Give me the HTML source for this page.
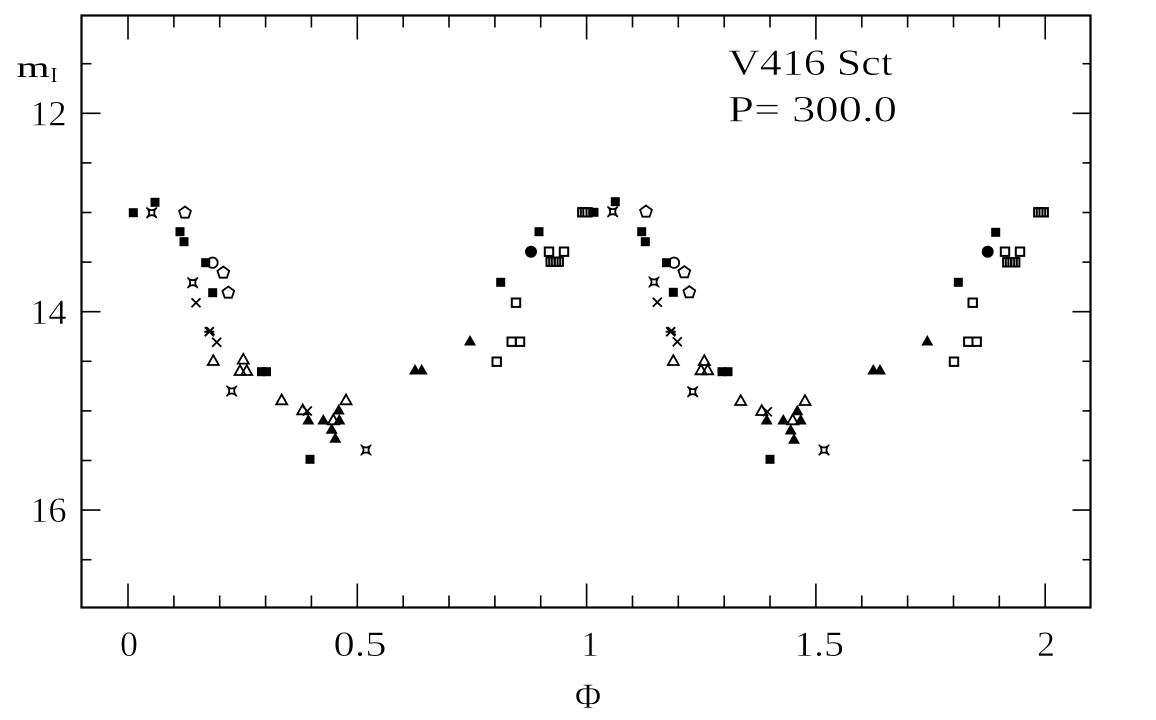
<!DOCTYPE html>
<html><head><meta charset="utf-8"><style>
html,body{margin:0;padding:0;background:#fff;}
svg{display:block;}
text{font-family:"Liberation Serif",serif;fill:#000;stroke:#fff;stroke-width:0.5;}
text.nos{stroke:none;}
</style></head><body>
<svg width="1156" height="720" viewBox="0 0 1156 720" xmlns="http://www.w3.org/2000/svg">
<defs>
<rect id="fsq" x="-4.5" y="-4.5" width="9" height="9" fill="#000"/>
<rect id="osq" x="-4.2" y="-4.2" width="8.4" height="8.4" fill="none" stroke="#000" stroke-width="2"/>
<polygon id="ftri" points="0,-6 6,4.5 -6,4.5" fill="#000"/>
<polygon id="otri" points="0,-5.5 5.5,4.3 -5.5,4.3" fill="none" stroke="#000" stroke-width="1.8"/>
<polygon id="pent" points="0,-6.2 5.9,-1.9 3.6,5 -3.6,5 -5.9,-1.9" fill="none" stroke="#000" stroke-width="1.8"/>
<circle id="ocirc" r="5.2" fill="none" stroke="#000" stroke-width="1.8"/>
<circle id="fcirc" r="6" fill="#000"/>
<g id="xx" stroke="#000" stroke-width="1.8"><line x1="-4.5" y1="-4.5" x2="4.5" y2="4.5"/><line x1="-4.5" y1="4.5" x2="4.5" y2="-4.5"/></g>
<g id="ast" stroke="#000" stroke-width="2"><line x1="-4.5" y1="-4.5" x2="4.5" y2="4.5"/><line x1="-4.5" y1="4.5" x2="4.5" y2="-4.5"/><line x1="-3" y1="-4.5" x2="5" y2="3.5"/><line x1="-5" y1="0" x2="5" y2="0"/></g>
<g id="astr" stroke="#000" stroke-width="1.8" fill="none"><path d="M-3.5,-3.5 Q0,-1.5 3.5,-3.5 Q1.5,0 3.5,3.5 Q0,1.5 -3.5,3.5 Q-1.5,0 -3.5,-3.5 Z"/><line x1="-5" y1="-5" x2="-3" y2="-3"/><line x1="5" y1="-5" x2="3" y2="-3"/><line x1="5" y1="5" x2="3" y2="3"/><line x1="-5" y1="5" x2="-3" y2="3"/></g>
</defs>

<rect x="81.5" y="15.5" width="1009" height="592" fill="none" stroke="#000" stroke-width="2.2"/>

<g stroke="#000" stroke-width="1.6">
<line x1="128" y1="15.5" x2="128" y2="39.5"/><line x1="128" y1="607.5" x2="128" y2="583.5"/>
<line x1="173.9" y1="15.5" x2="173.9" y2="27.5"/><line x1="173.9" y1="607.5" x2="173.9" y2="595.5"/>
<line x1="219.7" y1="15.5" x2="219.7" y2="27.5"/><line x1="219.7" y1="607.5" x2="219.7" y2="595.5"/>
<line x1="265.6" y1="15.5" x2="265.6" y2="27.5"/><line x1="265.6" y1="607.5" x2="265.6" y2="595.5"/>
<line x1="311.4" y1="15.5" x2="311.4" y2="27.5"/><line x1="311.4" y1="607.5" x2="311.4" y2="595.5"/>
<line x1="357.3" y1="15.5" x2="357.3" y2="39.5"/><line x1="357.3" y1="607.5" x2="357.3" y2="583.5"/>
<line x1="403.2" y1="15.5" x2="403.2" y2="27.5"/><line x1="403.2" y1="607.5" x2="403.2" y2="595.5"/>
<line x1="449" y1="15.5" x2="449" y2="27.5"/><line x1="449" y1="607.5" x2="449" y2="595.5"/>
<line x1="494.9" y1="15.5" x2="494.9" y2="27.5"/><line x1="494.9" y1="607.5" x2="494.9" y2="595.5"/>
<line x1="540.7" y1="15.5" x2="540.7" y2="27.5"/><line x1="540.7" y1="607.5" x2="540.7" y2="595.5"/>
<line x1="586.6" y1="15.5" x2="586.6" y2="39.5"/><line x1="586.6" y1="607.5" x2="586.6" y2="583.5"/>
<line x1="632.5" y1="15.5" x2="632.5" y2="27.5"/><line x1="632.5" y1="607.5" x2="632.5" y2="595.5"/>
<line x1="678.3" y1="15.5" x2="678.3" y2="27.5"/><line x1="678.3" y1="607.5" x2="678.3" y2="595.5"/>
<line x1="724.2" y1="15.5" x2="724.2" y2="27.5"/><line x1="724.2" y1="607.5" x2="724.2" y2="595.5"/>
<line x1="770" y1="15.5" x2="770" y2="27.5"/><line x1="770" y1="607.5" x2="770" y2="595.5"/>
<line x1="815.9" y1="15.5" x2="815.9" y2="39.5"/><line x1="815.9" y1="607.5" x2="815.9" y2="583.5"/>
<line x1="861.8" y1="15.5" x2="861.8" y2="27.5"/><line x1="861.8" y1="607.5" x2="861.8" y2="595.5"/>
<line x1="907.6" y1="15.5" x2="907.6" y2="27.5"/><line x1="907.6" y1="607.5" x2="907.6" y2="595.5"/>
<line x1="953.5" y1="15.5" x2="953.5" y2="27.5"/><line x1="953.5" y1="607.5" x2="953.5" y2="595.5"/>
<line x1="999.3" y1="15.5" x2="999.3" y2="27.5"/><line x1="999.3" y1="607.5" x2="999.3" y2="595.5"/>
<line x1="1045.2" y1="15.5" x2="1045.2" y2="39.5"/><line x1="1045.2" y1="607.5" x2="1045.2" y2="583.5"/>
</g>

<g stroke="#000" stroke-width="1.6">
<line x1="81.5" y1="63.7" x2="91.5" y2="63.7"/><line x1="1090.5" y1="63.7" x2="1082.5" y2="63.7"/>
<line x1="81.5" y1="113.3" x2="100.5" y2="113.3"/><line x1="1090.5" y1="113.3" x2="1072.5" y2="113.3"/>
<line x1="81.5" y1="162.9" x2="91.5" y2="162.9"/><line x1="1090.5" y1="162.9" x2="1082.5" y2="162.9"/>
<line x1="81.5" y1="212.5" x2="91.5" y2="212.5"/><line x1="1090.5" y1="212.5" x2="1082.5" y2="212.5"/>
<line x1="81.5" y1="262.1" x2="91.5" y2="262.1"/><line x1="1090.5" y1="262.1" x2="1082.5" y2="262.1"/>
<line x1="81.5" y1="311.7" x2="100.5" y2="311.7"/><line x1="1090.5" y1="311.7" x2="1072.5" y2="311.7"/>
<line x1="81.5" y1="361.3" x2="91.5" y2="361.3"/><line x1="1090.5" y1="361.3" x2="1082.5" y2="361.3"/>
<line x1="81.5" y1="410.9" x2="91.5" y2="410.9"/><line x1="1090.5" y1="410.9" x2="1082.5" y2="410.9"/>
<line x1="81.5" y1="460.5" x2="91.5" y2="460.5"/><line x1="1090.5" y1="460.5" x2="1082.5" y2="460.5"/>
<line x1="81.5" y1="510.1" x2="100.5" y2="510.1"/><line x1="1090.5" y1="510.1" x2="1072.5" y2="510.1"/>
<line x1="81.5" y1="559.7" x2="91.5" y2="559.7"/><line x1="1090.5" y1="559.7" x2="1082.5" y2="559.7"/>
</g>

<g font-size="36">
<text x="129" y="656" text-anchor="middle">0</text>
<text x="360" y="656" text-anchor="middle" textLength="53" lengthAdjust="spacingAndGlyphs">0.5</text>
<text x="590" y="656" text-anchor="middle">1</text>
<text x="819" y="656" text-anchor="middle" textLength="50" lengthAdjust="spacingAndGlyphs">1.5</text>
<text x="1046" y="656" text-anchor="middle">2</text>
<text x="66.7" y="125.5" text-anchor="end" textLength="36.5" lengthAdjust="spacingAndGlyphs">12</text>
<text x="66.7" y="324" text-anchor="end" textLength="36.5" lengthAdjust="spacingAndGlyphs">14</text>
<text x="66.7" y="522" text-anchor="end" textLength="36.5" lengthAdjust="spacingAndGlyphs">16</text>
</g>

<text class="nos" x="16.7" y="77" font-size="30" textLength="33" lengthAdjust="spacingAndGlyphs">m</text>
<text class="nos" x="50.7" y="82" font-size="21" textLength="6.5" lengthAdjust="spacingAndGlyphs">I</text>
<text x="588" y="708" font-size="36" text-anchor="middle">Φ</text>

<text x="728" y="75" font-size="37" textLength="165" lengthAdjust="spacingAndGlyphs">V416 Sct</text>
<text x="728" y="121.7" font-size="37" textLength="169" lengthAdjust="spacingAndGlyphs">P= 300.0</text>

<g>
<use href="#fsq" x="133.3" y="212.7"/><use href="#fsq" x="155" y="202.3"/><use href="#fsq" x="180" y="231.7"/><use href="#fsq" x="184" y="241.7"/>
<use href="#fsq" x="205.7" y="262.7"/><use href="#fsq" x="212.7" y="292.7"/><use href="#fsq" x="261.5" y="371.7"/><use href="#fsq" x="266.5" y="371.7"/>
<use href="#fsq" x="310" y="459.3"/><use href="#fsq" x="500.7" y="282.3"/><use href="#fsq" x="539" y="231.7"/>
<use href="#fsq" x="594" y="212.3"/><use href="#fsq" x="615.3" y="201.7"/><use href="#fsq" x="641.7" y="231.7"/><use href="#fsq" x="645.3" y="241.7"/>
<use href="#fsq" x="666.5" y="262.7"/><use href="#fsq" x="673.3" y="292.3"/><use href="#fsq" x="722" y="371.7"/><use href="#fsq" x="728" y="371.7"/>
<use href="#fsq" x="770" y="459.3"/><use href="#fsq" x="958.3" y="282.3"/><use href="#fsq" x="995.7" y="232.3"/>
</g>
<g>
<use href="#astr" x="151.7" y="212.7"/><use href="#astr" x="192.7" y="282.7"/><use href="#astr" x="231.7" y="391"/><use href="#astr" x="366" y="450"/>
<use href="#astr" x="612.7" y="211.7"/><use href="#astr" x="654" y="282"/><use href="#astr" x="692.7" y="391.7"/><use href="#astr" x="824" y="450"/>
</g>
<g>
<use href="#pent" x="185" y="212.7"/><use href="#pent" x="223.3" y="272.7"/><use href="#pent" x="228.3" y="292.7"/>
<use href="#pent" x="646" y="211.7"/><use href="#pent" x="684.3" y="272.3"/><use href="#pent" x="689.3" y="292.3"/>
</g>
<use href="#ocirc" x="212.5" y="262.7"/><use href="#ocirc" x="674" y="262.7"/>
<g>
<use href="#xx" x="196" y="302.7"/><use href="#xx" x="216.7" y="342.3"/><use href="#xx" x="307.3" y="411"/>
<use href="#xx" x="657.3" y="302.3"/><use href="#xx" x="677.3" y="341.7"/><use href="#xx" x="767.3" y="411.7"/>
<use href="#ast" x="209.3" y="331.7"/><use href="#ast" x="670.7" y="331.7"/>
</g>
<g>
<use href="#otri" x="213.3" y="360.7"/><use href="#otri" x="243.3" y="359.3"/><use href="#otri" x="240" y="370.7"/><use href="#otri" x="246.7" y="370.7"/>
<use href="#otri" x="281.7" y="400"/><use href="#otri" x="302.7" y="410"/><use href="#otri" x="346" y="400"/>
<use href="#otri" x="673.3" y="360.7"/><use href="#otri" x="704.3" y="360.7"/><use href="#otri" x="701" y="370"/><use href="#otri" x="707.7" y="370"/>
<use href="#otri" x="740.7" y="400.7"/><use href="#otri" x="761.7" y="410.7"/><use href="#otri" x="805" y="400.7"/>
</g>
<g>
<use href="#ftri" x="308.3" y="420"/><use href="#ftri" x="323.3" y="420"/><use href="#ftri" x="338.7" y="410"/><use href="#ftri" x="339.3" y="420"/>
<use href="#ftri" x="331.7" y="429.3"/><use href="#ftri" x="335.3" y="438.3"/><use href="#ftri" x="415" y="370"/><use href="#ftri" x="421.7" y="370"/><use href="#ftri" x="470" y="341"/>
<use href="#ftri" x="766.7" y="420"/><use href="#ftri" x="783.3" y="420"/><use href="#ftri" x="797.3" y="410.7"/><use href="#ftri" x="800.7" y="420"/>
<use href="#ftri" x="790.7" y="430"/><use href="#ftri" x="794" y="439.3"/><use href="#ftri" x="873.3" y="370"/><use href="#ftri" x="880" y="370"/><use href="#ftri" x="927.3" y="341"/>
</g>
<use href="#otri" x="333.3" y="420"/><use href="#otri" x="792.7" y="420"/>
<use href="#fcirc" x="531" y="251.7"/><use href="#fcirc" x="987.7" y="251.7"/>
<g>
<use href="#osq" x="549" y="251.7"/><use href="#osq" x="564" y="251.7"/><use href="#osq" x="516" y="302.7"/>
<use href="#osq" x="511.7" y="341.7"/><use href="#osq" x="520" y="341.7"/><use href="#osq" x="496.7" y="361.7"/>
<use href="#osq" x="550.7" y="261.7"/><use href="#osq" x="553.4" y="261.7"/><use href="#osq" x="556" y="261.7"/><use href="#osq" x="558.7" y="261.7"/>
<use href="#osq" x="582.3" y="212.3"/><use href="#osq" x="585" y="212.3"/><use href="#osq" x="587.5" y="212.3"/>
<use href="#osq" x="1005" y="251.7"/><use href="#osq" x="1020" y="251.7"/><use href="#osq" x="972.7" y="302.7"/>
<use href="#osq" x="968.3" y="341.7"/><use href="#osq" x="976.7" y="341.7"/><use href="#osq" x="954" y="361.7"/>
<use href="#osq" x="1007.3" y="262.3"/><use href="#osq" x="1010" y="262.3"/><use href="#osq" x="1012.6" y="262.3"/><use href="#osq" x="1015.2" y="262.3"/>
<use href="#osq" x="1038.3" y="212.3"/><use href="#osq" x="1041" y="212.3"/><use href="#osq" x="1043.7" y="212.3"/>
</g>
</svg>
</body></html>
